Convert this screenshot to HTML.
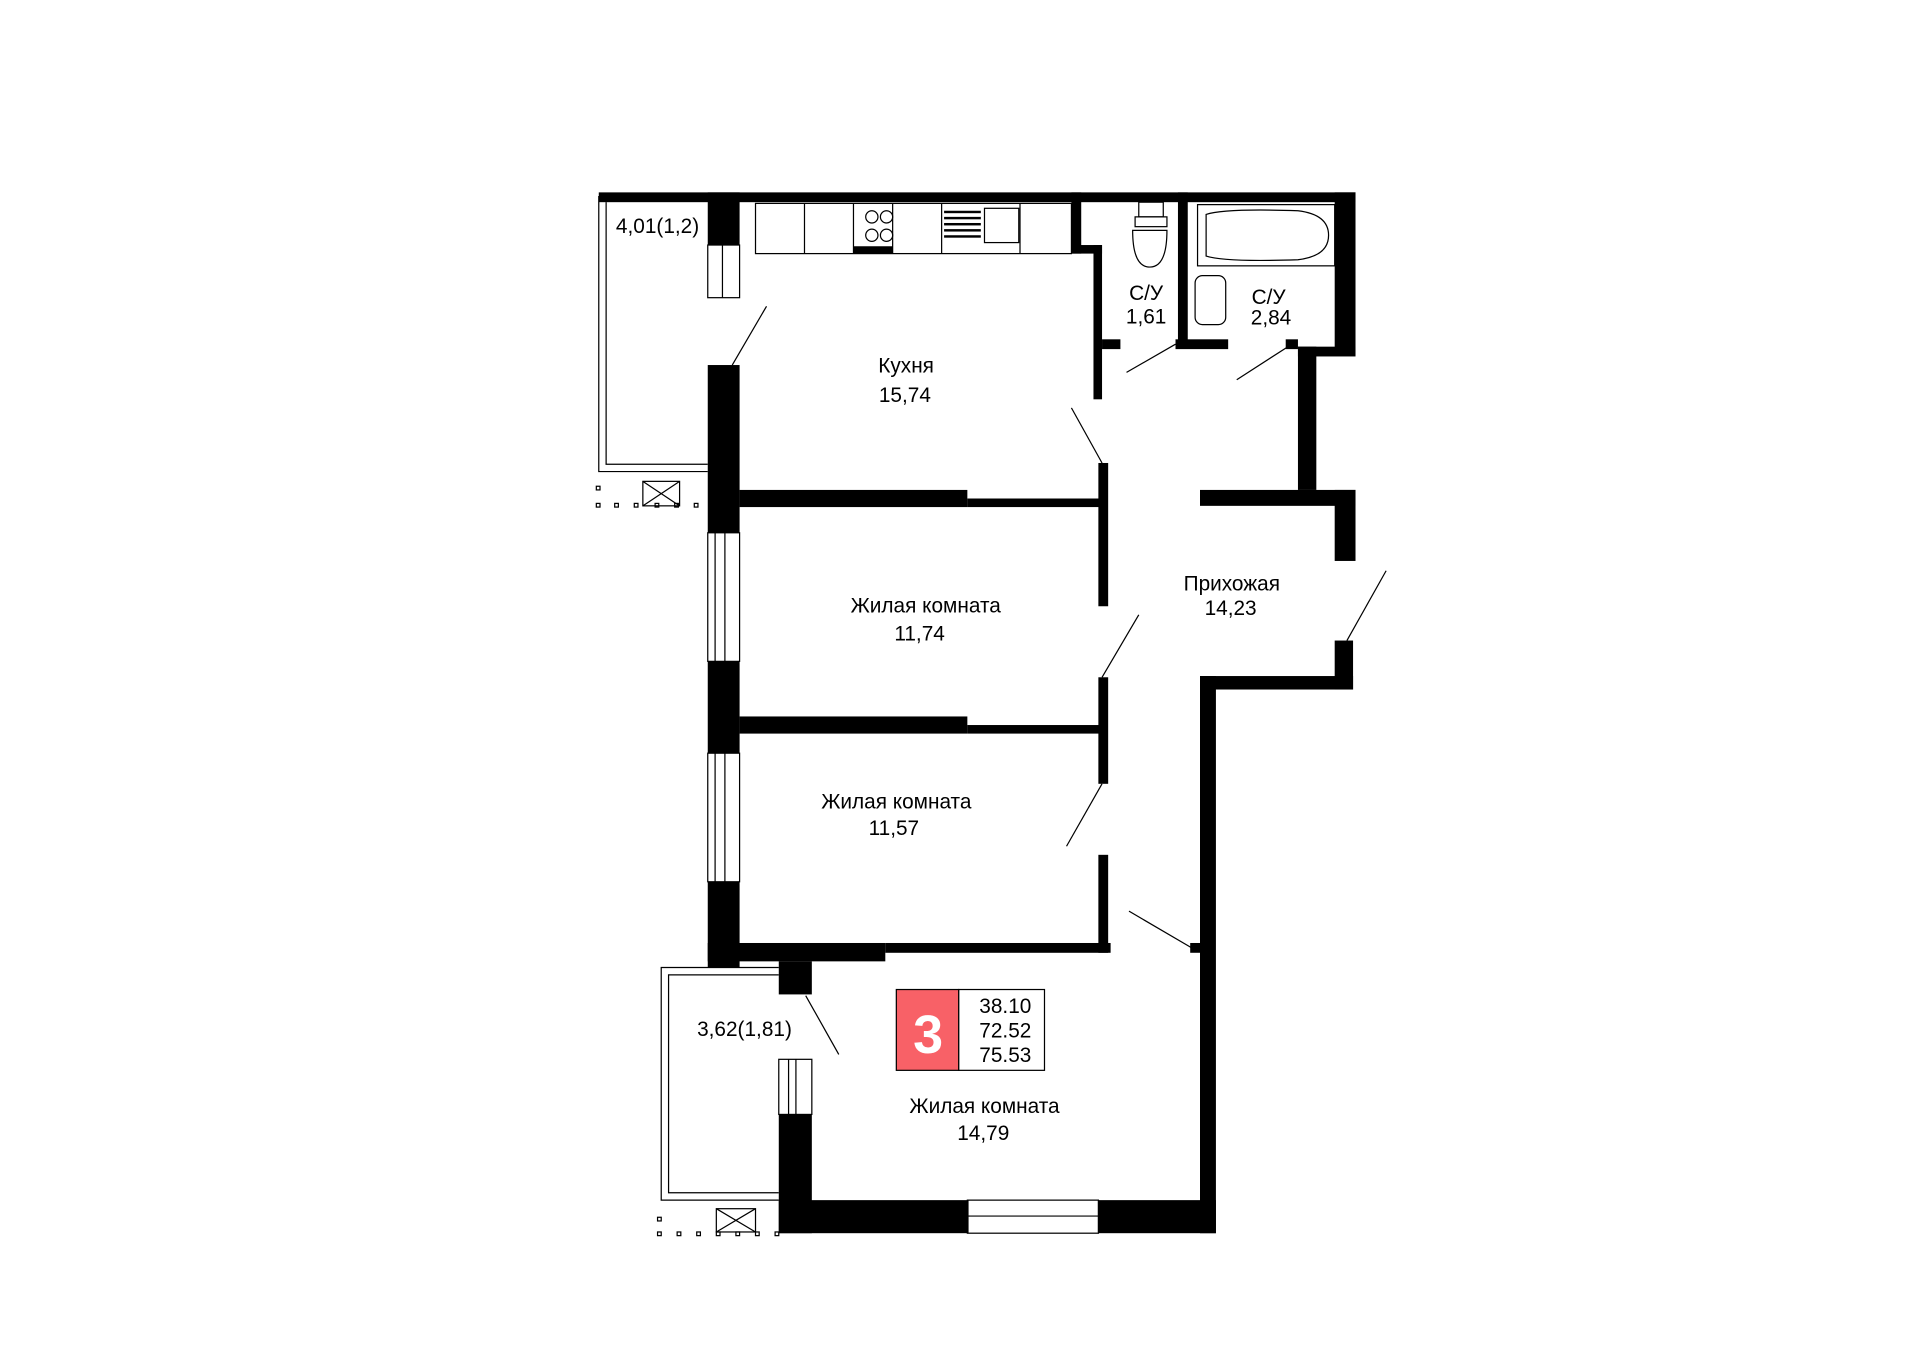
<!DOCTYPE html>
<html><head><meta charset="utf-8"><style>
html,body{margin:0;padding:0;background:#fff;}
svg{display:block;}
text{font-family:"Liberation Sans",sans-serif;fill:#000;}
</style></head><body>
<svg width="1920" height="1357" viewBox="0 0 1568 1108" xmlns="http://www.w3.org/2000/svg">
<rect width="1568" height="1108" fill="#fff"/>
<g fill="#000">
<!-- top wall -->
<rect x="489" y="157" width="618" height="8"/>
<rect x="578" y="157" width="26" height="43"/>
<rect x="578" y="298" width="26" height="137"/>
<rect x="578" y="540" width="26" height="75"/>
<rect x="578" y="720" width="26" height="70"/>
<!-- kitchen/room1 wall -->
<rect x="604" y="400" width="186" height="14"/>
<rect x="790" y="407" width="110" height="7"/>
<!-- room1/room2 wall -->
<rect x="604" y="585" width="186" height="14"/>
<rect x="790" y="592" width="110" height="7"/>
<!-- corridor wall -->
<rect x="897" y="378" width="8" height="117"/>
<rect x="897" y="553" width="8" height="87"/>
<rect x="897" y="698" width="8" height="80"/>
<!-- kitchen right -->
<rect x="875" y="157" width="8" height="50"/>
<rect x="875" y="200" width="25" height="7"/>
<rect x="893" y="200" width="7" height="126"/>
<rect x="900" y="277" width="15" height="8"/>
<!-- SU walls -->
<rect x="962" y="157" width="8" height="127"/>
<rect x="960" y="277" width="43" height="8"/>
<rect x="1090" y="157" width="17" height="133"/>
<rect x="1050" y="277" width="10" height="8"/>
<rect x="1060" y="283" width="15" height="117"/>
<rect x="1060" y="283" width="47" height="8"/>
<rect x="980" y="400" width="127" height="13"/>
<rect x="1090" y="400" width="17" height="58"/>
<rect x="1090" y="523" width="15" height="40"/>
<rect x="980" y="552" width="125" height="11"/>
<rect x="980" y="552" width="13" height="455"/>
<rect x="972" y="770" width="10" height="8"/>
<!-- room3 -->
<rect x="578" y="770" width="145" height="15"/>
<rect x="723" y="770" width="184" height="8"/>
<rect x="636" y="785" width="27" height="27"/>
<rect x="636" y="910" width="27" height="97"/>
<rect x="636" y="980" width="155" height="27"/>
<rect x="897" y="980" width="96" height="27"/>
</g>
<g fill="none" stroke="#000" stroke-width="1">
<!-- windows -->
<rect x="578" y="200" width="26" height="43"/><line x1="590" y1="200" x2="590" y2="243"/>
<rect x="578" y="435" width="26" height="105"/><line x1="584" y1="435" x2="584" y2="540"/><line x1="592" y1="435" x2="592" y2="540"/>
<rect x="578" y="615" width="26" height="105"/><line x1="584" y1="615" x2="584" y2="720"/><line x1="592" y1="615" x2="592" y2="720"/>
<rect x="636" y="865" width="27" height="45"/><line x1="644" y1="865" x2="644" y2="910"/><line x1="650" y1="865" x2="650" y2="910"/>
<rect x="790" y="980" width="107" height="27"/><line x1="790" y1="993" x2="897" y2="993"/>
<!-- balcony 1 -->
<path d="M489 160 V385 H578"/><path d="M495 165 V379 H578"/>
<rect x="525" y="393" width="30" height="20"/><path d="M525 393 L555 413 M555 393 L525 413"/>
<!-- balcony 2 -->
<path d="M636 790 H540 V980 H636"/><path d="M636 796 H546 V974 H636"/>
<rect x="585" y="987" width="32" height="19"/><path d="M585 987 L617 1006 M617 987 L585 1006"/>
<!-- door swings -->
<line x1="598" y1="298" x2="626" y2="250"/>
<line x1="875" y1="333" x2="900" y2="378"/>
<line x1="900" y1="553" x2="930" y2="502"/>
<line x1="871" y1="691" x2="900" y2="640"/>
<line x1="922" y1="744" x2="975" y2="775"/>
<line x1="920" y1="304" x2="960" y2="281"/>
<line x1="1010" y1="310" x2="1055" y2="281"/>
<line x1="1100" y1="523" x2="1132" y2="466"/>
<line x1="658" y1="813" x2="685" y2="861"/>
<!-- kitchen counters -->
<rect x="617" y="166" width="258" height="41"/>
<line x1="657" y1="166" x2="657" y2="207"/>
<line x1="697" y1="166" x2="697" y2="207"/><line x1="729" y1="166" x2="729" y2="207"/>
<line x1="769" y1="166" x2="769" y2="207"/><line x1="833" y1="166" x2="833" y2="207"/>
<rect x="804" y="170" width="28" height="28"/>
<circle cx="712" cy="177" r="5"/><circle cx="724" cy="177" r="5"/><circle cx="712" cy="192" r="5"/><circle cx="724" cy="192" r="5"/>
<!-- toilet -->
<rect x="930" y="165" width="20" height="12"/><rect x="927" y="177" width="26" height="8"/>
<path d="M925 188 Q925 218 939 218 Q953 218 953 188 Z"/>
<!-- bathtub -->
<rect x="978" y="167" width="112" height="50"/>
<path d="M985 175 Q1000 170 1060 172 Q1085 175 1085 192 Q1085 209 1060 212 Q1000 214 985 209 Z"/>
<!-- sink -->
<rect x="976" y="225" width="25" height="40" rx="6"/>
</g>
<g fill="#000">
<rect x="771" y="172" width="30" height="2"/><rect x="771" y="177" width="30" height="2"/><rect x="771" y="182" width="30" height="2"/><rect x="771" y="187" width="30" height="2"/><rect x="771" y="192" width="30" height="2"/>
<rect x="697" y="201" width="32" height="6"/>
</g>
<g fill="none" stroke="#000" stroke-width="1">
<rect x="487" y="411" width="3" height="3"/><rect x="502" y="411" width="3" height="3"/><rect x="518" y="411" width="3" height="3"/><rect x="535" y="411" width="3" height="3"/><rect x="551" y="411" width="3" height="3"/><rect x="567" y="411" width="3" height="3"/><rect x="487" y="397" width="3" height="3"/>
<rect x="537" y="1006" width="3" height="3"/><rect x="553" y="1006" width="3" height="3"/><rect x="569" y="1006" width="3" height="3"/><rect x="585" y="1006" width="3" height="3"/><rect x="601" y="1006" width="3" height="3"/><rect x="617" y="1006" width="3" height="3"/><rect x="633" y="1006" width="3" height="3"/><rect x="537" y="994" width="3" height="3"/>
</g>
<!-- badge -->
<rect x="732" y="808" width="51" height="66" fill="#f86167" stroke="#000" stroke-width="1"/>
<rect x="783" y="808" width="70" height="66" fill="#fff" stroke="#000" stroke-width="1"/>
<text x="758" y="860" font-size="44" font-weight="bold" text-anchor="middle" style="fill:#fff">3</text>
<g font-size="17" text-anchor="middle">
<text x="821" y="827">38.10</text><text x="821" y="847">72.52</text><text x="821" y="867">75.53</text>
<text x="537" y="190">4,01(1,2)</text>
<text x="740" y="304">Кухня</text><text x="739" y="328">15,74</text>
<text x="936" y="245">С/У</text><text x="936" y="264">1,61</text>
<text x="1036" y="248">С/У</text><text x="1038" y="265">2,84</text>
<text x="1006" y="482">Прихожая</text><text x="1005" y="502">14,23</text>
<text x="756" y="500">Жилая комната</text><text x="751" y="523">11,74</text>
<text x="732" y="660">Жилая комната</text><text x="730" y="682">11,57</text>
<text x="608" y="846">3,62(1,81)</text>
<text x="804" y="909">Жилая комната</text><text x="803" y="931">14,79</text>
</g>
</svg>
</body></html>
